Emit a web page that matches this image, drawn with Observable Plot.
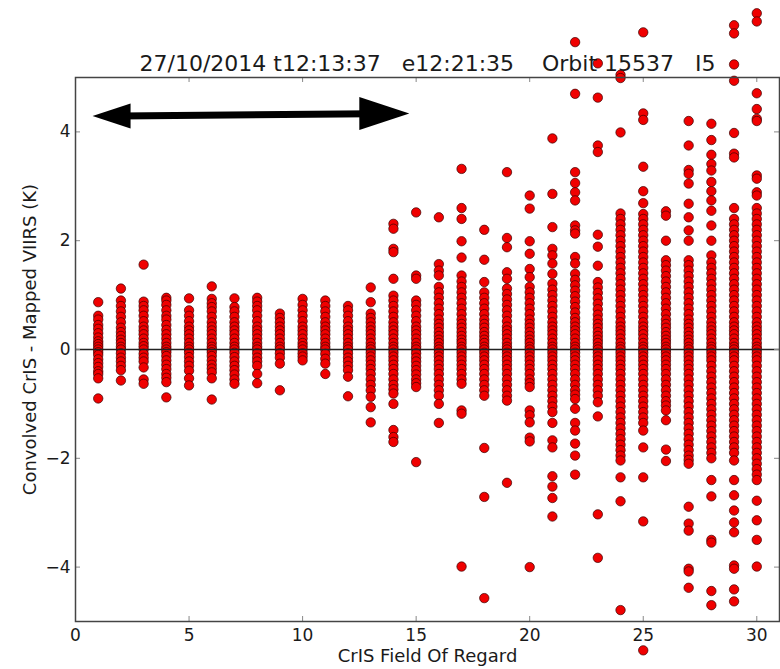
<!DOCTYPE html>
<html>
<head>
<meta charset="utf-8">
<script src="https://cdn.jsdelivr.net/npm/d3@7"></script>
<script src="https://cdn.jsdelivr.net/npm/@observablehq/plot@0.6"></script>
<style>
  html, body { margin: 0; padding: 0; background: #fff; }
  svg { overflow: visible; }
</style>
</head>
<body>
<div id="chart"></div>
<script>
// Field of regard (FOR) index of each CrIS column
const fieldOfRegard = d3.range(1, 31);

// Convolved CrIS minus mapped VIIRS brightness temperature (K), one list per FOR
const deltaK = [
  [0.87, 0.62, 0.55, 0.45, 0.38, 0.3, 0.22, 0.15, 0.1, 0.05, 0.0, -0.05, -0.1, -0.18, -0.25, -0.32, -0.4, -0.45, -0.53, -0.9],
  [1.12, 0.9, 0.8, 0.7, 0.6, 0.5, 0.4, 0.32, 0.25, 0.18, 0.12, 0.05, 0.0, -0.07, -0.15, -0.22, -0.3, -0.38, -0.57],
  [1.56, 0.88, 0.8, 0.72, 0.62, 0.52, 0.42, 0.35, 0.28, 0.2, 0.12, 0.06, 0.0, -0.08, -0.15, -0.22, -0.33, -0.55, -0.63],
  [0.95, 0.9, 0.82, 0.72, 0.62, 0.55, 0.45, 0.36, 0.28, 0.2, 0.12, 0.05, 0.0, -0.05, -0.12, -0.2, -0.28, -0.36, -0.45, -0.52, -0.6, -0.88],
  [0.94, 0.72, 0.62, 0.52, 0.42, 0.35, 0.28, 0.2, 0.12, 0.05, 0.0, -0.06, -0.14, -0.22, -0.3, -0.39, -0.53, -0.66],
  [1.16, 0.93, 0.85, 0.78, 0.7, 0.6, 0.5, 0.42, 0.35, 0.28, 0.2, 0.12, 0.05, 0.0, -0.05, -0.12, -0.2, -0.28, -0.35, -0.42, -0.53, -0.92],
  [0.94, 0.78, 0.7, 0.6, 0.5, 0.42, 0.35, 0.28, 0.2, 0.12, 0.05, 0.0, -0.06, -0.14, -0.22, -0.3, -0.38, -0.46, -0.55, -0.63],
  [0.95, 0.88, 0.8, 0.72, 0.62, 0.52, 0.42, 0.35, 0.28, 0.2, 0.12, 0.05, 0.0, -0.07, -0.15, -0.22, -0.3, -0.45, -0.62],
  [0.66, 0.58, 0.5, 0.42, 0.35, 0.28, 0.2, 0.12, 0.05, 0.0, -0.07, -0.15, -0.26, -0.75],
  [0.93, 0.82, 0.72, 0.62, 0.52, 0.42, 0.35, 0.28, 0.2, 0.12, 0.06, 0.0, -0.07, -0.13, -0.2],
  [0.9, 0.8, 0.7, 0.6, 0.5, 0.42, 0.35, 0.28, 0.2, 0.12, 0.05, 0.0, -0.08, -0.17, -0.26, -0.45],
  [0.8, 0.72, 0.62, 0.52, 0.42, 0.35, 0.28, 0.2, 0.12, 0.05, 0.0, -0.07, -0.15, -0.22, -0.3, -0.38, -0.5, -0.86],
  [1.14, 0.87, 0.66, 0.58, 0.5, 0.42, 0.35, 0.28, 0.2, 0.12, 0.05, 0.0, -0.06, -0.13, -0.2, -0.28, -0.36, -0.45, -0.55, -0.65, -0.75, -0.87, -1.06, -1.34],
  [2.31, 2.22, 1.85, 1.79, 1.3, 0.99, 0.9, 0.8, 0.7, 0.6, 0.5, 0.42, 0.35, 0.28, 0.2, 0.12, 0.05, 0.0, -0.06, -0.13, -0.2, -0.28, -0.36, -0.45, -0.55, -0.65, -0.73, -0.81, -1.0, -1.48, -1.61, -1.7],
  [2.52, 1.36, 1.3, 0.9, 0.82, 0.72, 0.62, 0.52, 0.42, 0.35, 0.28, 0.2, 0.12, 0.05, 0.0, -0.07, -0.15, -0.22, -0.3, -0.38, -0.46, -0.55, -0.62, -0.69, -2.07],
  [2.43, 1.57, 1.45, 1.36, 1.15, 1.05, 0.95, 0.85, 0.75, 0.65, 0.55, 0.47, 0.4, 0.32, 0.25, 0.18, 0.12, 0.05, 0.0, -0.06, -0.13, -0.2, -0.28, -0.36, -0.45, -0.55, -0.65, -0.75, -0.85, -1.0, -1.35],
  [3.32, 2.6, 2.4, 1.99, 1.69, 1.36, 1.25, 1.15, 1.05, 0.95, 0.85, 0.75, 0.65, 0.55, 0.47, 0.4, 0.32, 0.25, 0.18, 0.12, 0.05, 0.0, -0.06, -0.13, -0.2, -0.28, -0.36, -0.45, -0.55, -0.63, -1.12, -1.18, -3.99],
  [2.2, 1.65, 1.24, 1.05, 0.95, 0.85, 0.75, 0.65, 0.55, 0.47, 0.4, 0.32, 0.25, 0.18, 0.12, 0.05, 0.0, -0.06, -0.13, -0.2, -0.28, -0.36, -0.45, -0.55, -0.65, -0.75, -0.85, -1.81, -2.71, -4.57],
  [3.26, 2.05, 1.88, 1.42, 1.3, 1.12, 1.02, 0.92, 0.82, 0.72, 0.62, 0.52, 0.42, 0.35, 0.28, 0.2, 0.12, 0.05, 0.0, -0.06, -0.13, -0.2, -0.28, -0.36, -0.45, -0.55, -0.65, -0.75, -0.85, -0.94, -2.45],
  [2.83, 2.59, 1.99, 1.76, 1.48, 1.33, 1.15, 1.05, 0.95, 0.85, 0.75, 0.65, 0.55, 0.47, 0.4, 0.32, 0.25, 0.18, 0.12, 0.05, 0.0, -0.06, -0.13, -0.2, -0.28, -0.36, -0.45, -0.55, -0.62, -0.69, -1.12, -1.21, -1.34, -1.62, -1.69, -4.0],
  [3.88, 2.86, 2.25, 1.85, 1.73, 1.58, 1.39, 1.21, 1.1, 1.0, 0.9, 0.8, 0.7, 0.6, 0.5, 0.42, 0.35, 0.28, 0.2, 0.12, 0.05, 0.0, -0.06, -0.13, -0.2, -0.28, -0.36, -0.45, -0.55, -0.65, -0.75, -0.85, -0.95, -1.05, -1.15, -1.35, -1.67, -1.8, -2.33, -2.52, -2.73, -3.07],
  [5.65, 4.7, 3.26, 3.06, 2.89, 2.74, 2.28, 2.19, 2.13, 1.7, 1.58, 1.39, 1.28, 1.18, 1.08, 0.98, 0.88, 0.78, 0.68, 0.58, 0.5, 0.42, 0.35, 0.28, 0.2, 0.12, 0.05, 0.0, -0.06, -0.13, -0.2, -0.28, -0.36, -0.45, -0.55, -0.65, -0.75, -0.83, -0.91, -1.09, -1.35, -1.49, -1.73, -1.95, -2.3],
  [5.26, 4.63, 3.75, 3.63, 2.11, 1.89, 1.54, 1.24, 1.14, 1.04, 0.94, 0.84, 0.74, 0.64, 0.55, 0.47, 0.4, 0.32, 0.25, 0.18, 0.12, 0.05, 0.0, -0.06, -0.13, -0.2, -0.28, -0.36, -0.45, -0.55, -0.65, -0.75, -0.85, -0.97, -1.23, -3.03, -3.83],
  [5.05, 4.99, 3.99, 2.5, 2.4, 2.3, 2.2, 2.1, 2.0, 1.9, 1.8, 1.7, 1.6, 1.5, 1.4, 1.3, 1.2, 1.1, 1.0, 0.9, 0.8, 0.7, 0.6, 0.5, 0.42, 0.35, 0.28, 0.2, 0.12, 0.05, 0.0, -0.06, -0.13, -0.2, -0.28, -0.36, -0.45, -0.55, -0.65, -0.75, -0.85, -0.95, -1.05, -1.15, -1.25, -1.35, -1.45, -1.55, -1.65, -1.75, -1.85, -1.95, -2.04, -2.35, -2.79, -4.79],
  [5.83, 4.34, 4.22, 3.36, 2.91, 2.69, 2.49, 2.4, 2.3, 2.2, 2.1, 2.0, 1.9, 1.8, 1.7, 1.6, 1.5, 1.4, 1.3, 1.2, 1.1, 1.0, 0.9, 0.8, 0.7, 0.6, 0.5, 0.42, 0.35, 0.28, 0.2, 0.12, 0.05, 0.0, -0.06, -0.13, -0.2, -0.28, -0.36, -0.45, -0.55, -0.65, -0.75, -0.85, -0.95, -1.05, -1.15, -1.25, -1.35, -1.49, -1.8, -2.35, -3.16, -5.53],
  [2.54, 2.46, 2.0, 1.64, 1.55, 1.45, 1.35, 1.25, 1.15, 1.05, 0.95, 0.85, 0.75, 0.65, 0.55, 0.47, 0.4, 0.32, 0.25, 0.18, 0.12, 0.05, 0.0, -0.06, -0.13, -0.2, -0.28, -0.36, -0.45, -0.55, -0.65, -0.75, -0.85, -0.95, -1.03, -1.12, -1.3, -1.84, -2.05],
  [4.2, 3.75, 3.3, 3.23, 3.05, 2.68, 2.43, 2.19, 2.0, 1.64, 1.55, 1.45, 1.35, 1.25, 1.15, 1.05, 0.95, 0.85, 0.75, 0.65, 0.55, 0.47, 0.4, 0.32, 0.25, 0.18, 0.12, 0.05, 0.0, -0.06, -0.13, -0.2, -0.28, -0.36, -0.45, -0.55, -0.65, -0.75, -0.85, -0.95, -1.05, -1.15, -1.25, -1.35, -1.45, -1.55, -1.65, -1.75, -1.85, -1.95, -2.03, -2.1, -2.89, -3.2, -3.33, -4.03, -4.08, -4.38],
  [4.15, 3.85, 3.58, 3.41, 3.29, 3.08, 2.91, 2.74, 2.55, 2.28, 2.0, 1.73, 1.6, 1.5, 1.4, 1.3, 1.2, 1.1, 1.0, 0.9, 0.8, 0.7, 0.6, 0.5, 0.42, 0.35, 0.28, 0.2, 0.12, 0.05, 0.0, -0.06, -0.13, -0.2, -0.3, -0.4, -0.5, -0.6, -0.7, -0.8, -0.9, -1.0, -1.1, -1.2, -1.3, -1.4, -1.5, -1.6, -1.7, -1.8, -1.9, -2.0, -2.4, -2.7, -3.5, -3.55, -4.44, -4.7],
  [5.96, 5.81, 5.24, 4.94, 3.98, 3.6, 3.53, 2.6, 2.4, 2.3, 2.2, 2.1, 2.0, 1.9, 1.8, 1.7, 1.6, 1.5, 1.4, 1.3, 1.2, 1.1, 1.0, 0.9, 0.8, 0.7, 0.6, 0.5, 0.42, 0.35, 0.28, 0.2, 0.12, 0.05, 0.0, -0.06, -0.13, -0.2, -0.3, -0.4, -0.5, -0.6, -0.7, -0.8, -0.9, -1.0, -1.1, -1.2, -1.3, -1.4, -1.5, -1.6, -1.7, -1.8, -1.9, -2.04, -2.4, -2.68, -2.96, -3.18, -3.36, -3.97, -4.03, -4.41, -4.63],
  [6.18, 6.03, 4.71, 4.42, 4.24, 4.2, 3.2, 3.14, 2.89, 2.83, 2.6, 2.5, 2.4, 2.3, 2.2, 2.1, 2.0, 1.9, 1.8, 1.7, 1.6, 1.5, 1.4, 1.3, 1.2, 1.1, 1.0, 0.9, 0.8, 0.7, 0.6, 0.5, 0.42, 0.35, 0.28, 0.2, 0.12, 0.05, 0.0, -0.06, -0.13, -0.2, -0.3, -0.4, -0.5, -0.6, -0.7, -0.8, -0.9, -1.0, -1.1, -1.2, -1.3, -1.4, -1.5, -1.6, -1.7, -1.8, -1.9, -2.0, -2.1, -2.2, -2.3, -2.4, -2.78, -3.14, -3.5, -3.99]
];

// Axis ticks
const xTickValues = [0, 5, 10, 15, 20, 25, 30];
const yTickValues = [-4, -2, 0, 2, 4];

// Texts
const titleText = "27/10/2014 t12:13:37\u00a0\u00a0 e12:21:35\u00a0\u00a0\u00a0 Orbit 15537\u00a0\u00a0 I5";
const xLabel = "CrIS Field Of Regard";
const yLabel = "Convolved CrIS - Mapped VIIRS (K)";

// Double-headed arrow marking the FOR span 1–15
const arrowTipX = [0.75, 14.7];
const arrowTipY = [4.29, 4.34];
const arrowShaftX = [2.0, 13.0];

const points = fieldOfRegard.flatMap((f, i) => deltaK[i].map(v => ({for: f, dk: v})));

const W = 780, H = 669;
const mL = 75, mR = 1, mT = 77, mB = 48;
const innerW = W - mL - mR, innerH = H - mT - mB;

// Filled triangular arrowheads; tip at the symbol origin
function headSymbol(len, half, dir) {
  return {
    draw(context) {
      context.moveTo(0, 0);
      context.lineTo(-dir * len, -half);
      context.lineTo(-dir * len, half);
      context.closePath();
    }
  };
}

const shaftY = arrowShaftX.map((x, i) => arrowTipY[0] + (arrowTipY[1] - arrowTipY[0]) * (x - arrowTipX[0]) / (arrowTipX[1] - arrowTipX[0]));

const tickStyle = {stroke: "#888", strokeWidth: 1};
const intFormat = d3.format("d");

const chart = Plot.plot({
  width: W,
  height: H,
  marginLeft: mL,
  marginRight: mR,
  marginTop: mT,
  marginBottom: mB,
  x: {domain: [0, 31]},
  y: {domain: [-5, 5]},
  style: {fontFamily: "'DejaVu Sans', sans-serif", background: "#fff", color: "#1a1a1a", overflow: "visible"},
  marks: [
    Plot.dot(points, {x: "for", y: "dk", r: 4.7, fill: "#f00000", stroke: "#3a0000", strokeWidth: 0.7}),
    Plot.ruleY([0], {stroke: "#222", strokeWidth: 1.5}),
    // inward ticks on all four sides
    Plot.tickX(xTickValues, {x: d => d, insetTop: innerH - 5, ...tickStyle}),
    Plot.tickX(xTickValues, {x: d => d, insetBottom: innerH - 5, ...tickStyle}),
    Plot.tickY(yTickValues, {y: d => d, insetRight: innerW - 5, ...tickStyle}),
    Plot.tickY(yTickValues, {y: d => d, insetLeft: innerW - 5, ...tickStyle}),
    Plot.frame({stroke: "#444", strokeWidth: 1.5}),
    Plot.axisX(xTickValues, {tickSize: 0, tickPadding: 7, fontSize: 17, label: null, tickFormat: intFormat}),
    Plot.axisY(yTickValues, {tickSize: 0, tickPadding: 5, fontSize: 17, label: null, tickFormat: intFormat}),
    // arrow
    Plot.link([0], {x1: () => arrowShaftX[0], x2: () => arrowShaftX[1], y1: () => shaftY[0], y2: () => shaftY[1], stroke: "#000", strokeWidth: 7}),
    Plot.dot([0], {x: () => arrowTipX[0], y: () => arrowTipY[0], symbol: headSymbol(38, 12.5, -1), fill: "#000", stroke: "none"}),
    Plot.dot([0], {x: () => arrowTipX[1], y: () => arrowTipY[1], symbol: headSymbol(50, 16.5, 1), fill: "#000", stroke: "none"}),
    // title and axis labels
    Plot.text([titleText], {text: d => d, frameAnchor: "top", lineAnchor: "bottom", dy: -7, fontSize: 22, fill: "#1a1a1a"}),
    Plot.text([xLabel], {text: d => d, frameAnchor: "bottom", textAnchor: "middle", dy: 40, fontSize: 18, fill: "#1a1a1a"}),
    Plot.text([yLabel], {text: d => d, frameAnchor: "left", textAnchor: "middle", rotate: -90, dx: -45, dy: -10, fontSize: 18, fill: "#1a1a1a"})
  ]
});

document.getElementById("chart").appendChild(chart);
</script>
</body>
</html>
